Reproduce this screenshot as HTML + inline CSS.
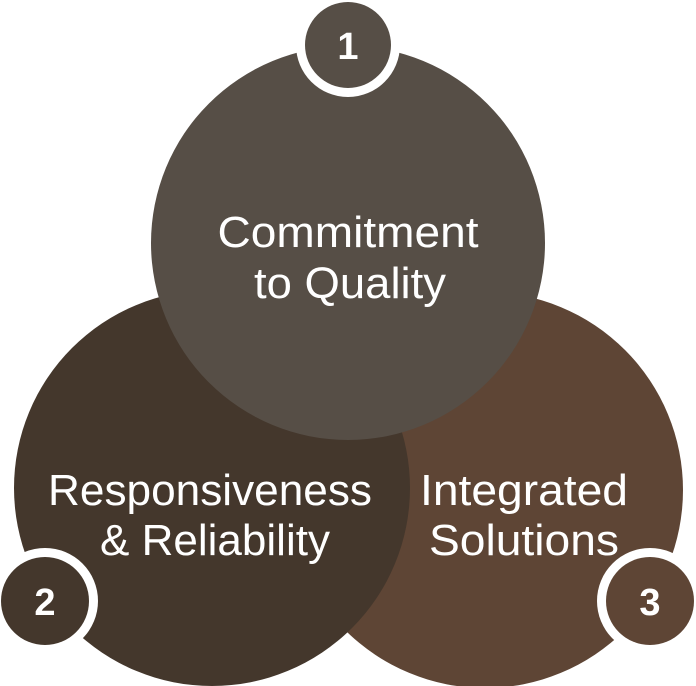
<!DOCTYPE html>
<html><head><style>
html,body{margin:0;padding:0;background:#fff;width:696px;height:686px;overflow:hidden}
</style></head><body>
<svg width="696" height="686" viewBox="0 0 696 686" xmlns="http://www.w3.org/2000/svg" font-family="Liberation Sans, sans-serif">
<circle cx="485" cy="490" r="198" fill="#5e4535"/>
<circle cx="212" cy="488" r="198" fill="#44372c"/>
<circle cx="348" cy="243" r="197" fill="#564e46"/>
<circle cx="348" cy="45" r="52" fill="#fff"/>
<circle cx="348" cy="45" r="43" fill="#564e46"/>
<circle cx="45" cy="601" r="53" fill="#fff"/>
<circle cx="45" cy="601" r="44" fill="#44372c"/>
<circle cx="650" cy="601" r="53" fill="#fff"/>
<circle cx="650" cy="601" r="44" fill="#5e4535"/>
<g fill="#fff" font-weight="bold" font-size="38" text-anchor="middle">
<text x="348" y="59">1</text>
<text x="45" y="615">2</text>
<text x="650" y="615">3</text>
</g>
<g fill="#fff" font-size="44" text-anchor="middle">
<text x="348" y="247" textLength="261" lengthAdjust="spacingAndGlyphs">Commitment</text>
<text x="350" y="298" textLength="192" lengthAdjust="spacingAndGlyphs">to Quality</text>
<text x="210" y="505" textLength="324" lengthAdjust="spacingAndGlyphs">Responsiveness</text>
<text x="215" y="555" textLength="230" lengthAdjust="spacingAndGlyphs">&amp; Reliability</text>
<text x="524" y="505" textLength="208" lengthAdjust="spacingAndGlyphs">Integrated</text>
<text x="524" y="555" textLength="190" lengthAdjust="spacingAndGlyphs">Solutions</text>
</g>
</svg>
</body></html>
